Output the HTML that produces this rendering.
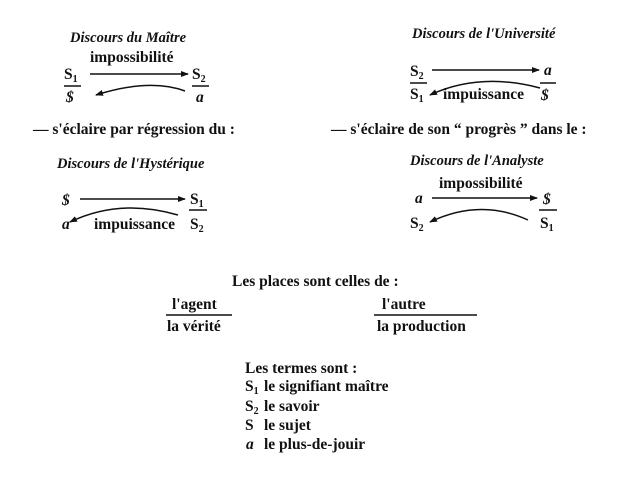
<!DOCTYPE html>
<html><head><meta charset="utf-8"><style>
html,body{margin:0;padding:0;background:#fff}
svg{display:block}
text{font-family:"Liberation Serif",serif;fill:#111;font-weight:bold}
.t{font-style:italic;font-size:14.5px}
.n{font-size:15.5px}
.s{font-size:10px}
</style></head><body>
<svg width="634" height="480" viewBox="0 0 634 480" xmlns="http://www.w3.org/2000/svg">
<defs><marker id="ah" markerWidth="8" markerHeight="6" refX="7" refY="3" orient="auto" markerUnits="userSpaceOnUse"><path d="M0,0 L8,3 L0,6 z" fill="#111"/></marker></defs>
<g stroke="#111" stroke-width="1.5" fill="none">
<line x1="90" y1="74" x2="188" y2="74" marker-end="url(#ah)"/>
<path d="M185,91 Q150,78 96,95" marker-end="url(#ah)"/>
<line x1="64" y1="86" x2="81" y2="86"/><line x1="192" y1="86" x2="209" y2="86"/>
<line x1="432" y1="70" x2="539" y2="70" marker-end="url(#ah)"/>
<path d="M540,88 Q480,72 430,95" marker-end="url(#ah)"/>
<line x1="410" y1="83" x2="427" y2="83"/><line x1="540" y1="83" x2="556" y2="83"/>
<line x1="80" y1="199" x2="185" y2="199" marker-end="url(#ah)"/>
<path d="M178,215 Q120,198 70,222" marker-end="url(#ah)"/>
<line x1="189" y1="210" x2="207" y2="210"/>
<line x1="432" y1="198" x2="537" y2="198" marker-end="url(#ah)"/>
<path d="M528,220 Q480,198 430,222" marker-end="url(#ah)"/>
<line x1="539" y1="210" x2="557" y2="210"/>
<line x1="166" y1="315" x2="232" y2="315"/>
<line x1="374" y1="315" x2="477" y2="315"/>
</g>
<text class="t" x="70" y="42">Discours du Maître</text>
<text class="n" x="90" y="62">impossibilité</text>
<text class="n" x="64" y="79">S<tspan class="s" dy="3">1</tspan></text>
<text class="n" x="66" y="102" font-style="italic">$</text>
<text class="n" x="192" y="79">S<tspan class="s" dy="3">2</tspan></text>
<text class="n" x="196" y="102" font-style="italic">a</text>

<text class="t" x="412" y="38">Discours de l'Université</text>
<text class="n" x="410" y="76">S<tspan class="s" dy="3">2</tspan></text>
<text class="n" x="544" y="75" font-style="italic">a</text>
<text class="n" x="410" y="99">S<tspan class="s" dy="3">1</tspan></text>
<text class="n" x="443" y="99">impuissance</text>
<text class="n" x="541" y="100" font-style="italic">$</text>

<text class="n" x="33" y="134">— s'éclaire par régression du :</text>
<text class="n" x="331" y="134">— s'éclaire de son “ progrès ” dans le :</text>

<text class="t" x="57" y="168">Discours de l'Hystérique</text>
<text class="n" x="62" y="205" font-style="italic">$</text>
<text class="n" x="190" y="204">S<tspan class="s" dy="3">1</tspan></text>
<text class="n" x="62" y="229" font-style="italic">a</text>
<text class="n" x="94" y="229">impuissance</text>
<text class="n" x="190" y="229">S<tspan class="s" dy="3">2</tspan></text>

<text class="t" x="410" y="165">Discours de l'Analyste</text>
<text class="n" x="439" y="188">impossibilité</text>
<text class="n" x="415" y="203" font-style="italic">a</text>
<text class="n" x="543" y="204" font-style="italic">$</text>
<text class="n" x="410" y="228">S<tspan class="s" dy="3">2</tspan></text>
<text class="n" x="540" y="228">S<tspan class="s" dy="3">1</tspan></text>

<text class="n" x="232" y="286">Les places sont celles de :</text>
<text class="n" x="172" y="309">l'agent</text>
<text class="n" x="167" y="331">la vérité</text>
<text class="n" x="382" y="309">l'autre</text>
<text class="n" x="377" y="331">la production</text>

<text class="n" x="245" y="373">Les termes sont :</text>
<text class="n" x="245" y="391">S<tspan class="s" dy="3">1</tspan><tspan dy="-3" x="264">le signifiant maître</tspan></text>
<text class="n" x="245" y="411">S<tspan class="s" dy="3">2</tspan><tspan dy="-3" x="264">le savoir</tspan></text>
<text class="n" x="245" y="430">S<tspan x="264">le sujet</tspan></text>
<text class="n" x="246" y="449" font-style="italic">a</text>
<text class="n" x="264" y="449">le plus-de-jouir</text>
</svg>
</body></html>
